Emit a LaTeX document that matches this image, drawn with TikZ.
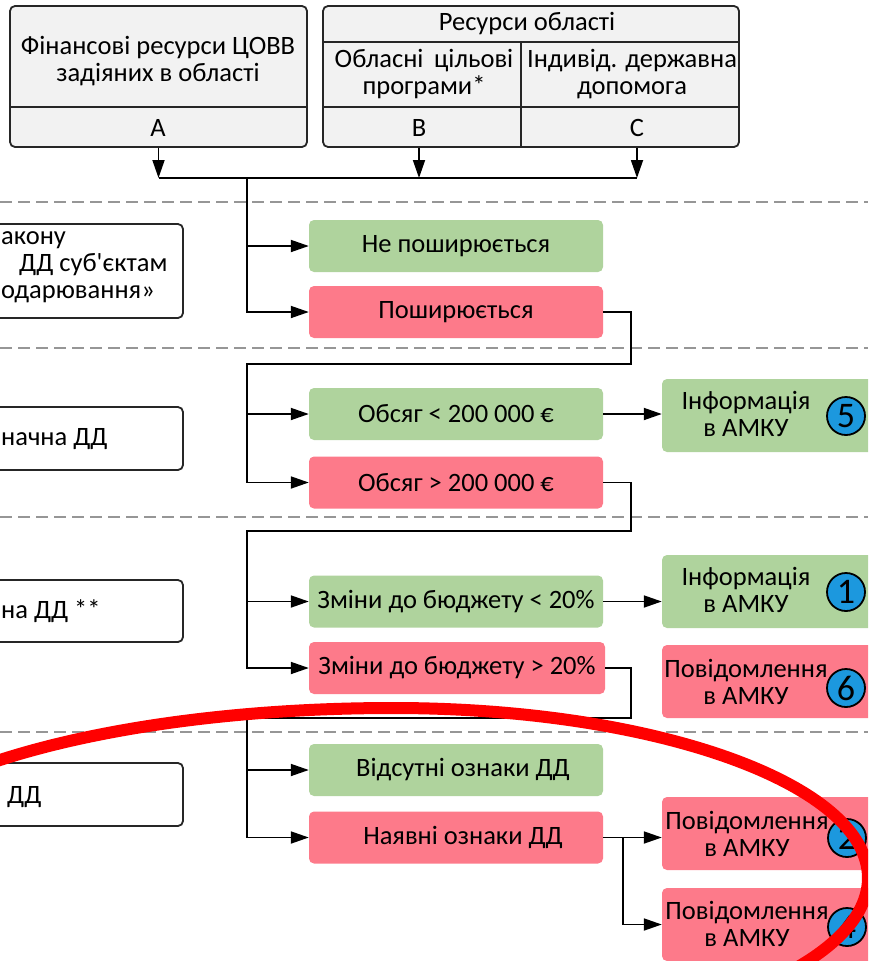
\documentclass[tikz,border=0pt]{standalone}
\usepackage{fontspec}
\setmainfont{Carlito}
\usetikzlibrary{arrows.meta}
\definecolor{zelenyi}{RGB}{175,211,157}
\definecolor{rozhevyi}{RGB}{253,122,138}
\definecolor{syniy}{RGB}{28,152,222}
\definecolor{siryi}{RGB}{242,242,242}
\definecolor{punktyr}{RGB}{150,150,150}
\begin{document}
\begin{tikzpicture}[x=1pt,y=-1pt, %Початок схеми
	font=\fontsize{26.5}{27}\selectfont,
	>={Triangle[length=18pt,width=12pt]},
	zv/.style={line width=1.8pt}, %зв'язки
	ramka/.style={draw=black!85,line width=1.8pt},
	verkh/.style={ramka,fill=siryi,rounded corners=5pt},
	krok/.style={ramka,fill=white,rounded corners=5pt,minimum width=203pt},
	tak/.style={fill=zelenyi,rounded corners=5pt,minimum width=294pt,minimum height=52pt},
	ni/.style={fill=rozhevyi,rounded corners=5pt,minimum width=294pt,minimum height=52pt},
	amku/.style={minimum width=230pt,minimum height=73pt},
	nomer/.style={circle,draw,line width=1.8pt,fill=syniy,minimum size=38pt,inner sep=0pt,font=\fontsize{36}{36}\selectfont},
	mezha/.style={punktyr,line width=1.2pt,dash pattern=on 12pt off 6pt},
	obvid/.style={red,line width=12pt}]
\useasboundingbox (0,0) rectangle (868,961);
\clip (0,0) rectangle (868,961);
	%Пунктирні межі
\foreach \yy in {202,348,517,732} \draw[mezha] (0,\yy) -- (868,\yy);
	%Верхні блоки
\node[verkh, minimum width=297pt, minimum height=141pt] (fin) at (158.5,76.5) {}; %ЦОВВ
\node[verkh, minimum width=416pt, minimum height=141pt] (res) at (531,76.5) {}; %Ресурси області
\draw[ramka] (fin.west |- 0,107) -- (fin.east |- 0,107);
\draw[ramka] (res.west |- 0,42) -- (res.east |- 0,42);
\draw[ramka] (res.west |- 0,107) -- (res.east |- 0,107);
\draw[ramka] (521,42) -- (521,147);
\node[align=center] (finT) at (158,61) {Фінансові ресурси ЦОВВ\\задіяних в області};
\node (litA) at (158,128) {A};
\node (resT) at (527,24) {Ресурси області};
\node[align=center] (prog) at (424,74) {Обласні\hspace{0.4em}цільові\\програми*};
\node[align=center] (dop) at (632,74) {Індивід. державна\\допомога};
\node (litB) at (419,128) {B};
\node (litC) at (637,128) {C};
	%Збірна лінія
\coordinate (zbir) at (247,178);
\draw[zv,->] (fin.south) -- (fin.south |- zbir);
\draw[zv,->] (litB |- res.south) -- (litB |- zbir);
\draw[zv,->] (litC |- res.south) -- (litC |- zbir);
\draw[zv] (fin.south |- zbir) -- (litC |- zbir);
	%Ліві блоки
\node[krok, minimum height=94pt] (zakon) at (81.5,271) {};
\node[anchor=west, align=left, inner sep=0pt] (zakonT) at (1,267) {акону\\\hspace*{18pt}ДД суб\textquotesingle єктам\\одарювання»};
\node[krok, minimum height=63pt] (znach) at (81.5,438.5) {};
\node[anchor=west, inner sep=0pt] (znachT) at (1,439) {начна ДД};
\node[krok, minimum height=62pt] (zmina) at (81.5,611) {};
\node[anchor=west, inner sep=0pt] (zminaT) at (1,611) {на ДД **};
\node[krok, minimum height=63pt] (oznak) at (81.5,794.5) {};
\node[anchor=west, inner sep=0pt] (oznakT) at (7,797) {ДД};
	%Середні блоки
\node[tak] (neposhyr) at (456,246) {Не поширюється};
\node[ni] (poshyr) at (456,312) {Поширюється};
\node[tak] (obsMen) at (456,414) {Обсяг < 200 000 €\hspace{50pt}};
\node[ni] (obsBil) at (456,482.5) {Обсяг > 200 000 €\hspace{50pt}};
\node[tak] (zminMen) at (456,601.5) {Зміни до бюджету < 20\%};
\node[ni, minimum width=296pt] (zminBil) at (457,668) {Зміни до бюджету > 20\%};
\node[tak] (vidsut) at (456,770) {\hspace*{14pt}Відсутні ознаки ДД};
\node[ni] (nayavni) at (456,837.5) {\hspace*{14pt}Наявні ознаки ДД};
	%Праві блоки
\node[tak, amku] (info5) at (777,415.5) {};
\node[align=center] (info5T) at (746,413.5) {Інформація\\в АМКУ};
\node[nomer] (n5) at (846,416) {5};
\node[tak, amku] (info1) at (777,591.5) {};
\node[align=center] (info1T) at (746,590) {Інформація\\в АМКУ};
\node[nomer] (n1) at (846,592) {1};
\node[ni, amku] (povid6) at (777,681.5) {};
\node[align=center] (povid6T) at (746,682) {Повідомлення\\в АМКУ};
\node[nomer] (n6) at (846,688) {6};
\node[ni, amku] (povid2) at (777,833.5) {};
\node[align=center] (povid2T) at (747,833.5) {Повідомлення\\в АМКУ};
\node[nomer] (n2) at (847,838) {2};
\node[ni, amku] (povid4) at (777,924.5) {};
\node[align=center] (povid4T) at (747,923.5) {Повідомлення\\в АМКУ};
\node[nomer] (n4) at (847,927) {4};
	%Зв'язки
\draw[zv,->] (zbir) |- (poshyr.west);
\draw[zv,->] (zbir |- neposhyr) -- (neposhyr.west);
\coordinate (vh2) at (631,364); \coordinate (zbir2) at (247,364);
\draw[zv,->] (poshyr.east) -| (vh2) -- (zbir2) |- (obsBil.west);
\draw[zv,->] (zbir2 |- obsMen) -- (obsMen.west);
\draw[zv,->] (obsMen.east) -- (obsMen.east -| info5.west);
\coordinate (vh3) at (631,531); \coordinate (zbir3) at (247,531);
\draw[zv,->] (obsBil.east) -| (vh3) -- (zbir3) |- (zminBil.west);
\draw[zv,->] (zbir3 |- zminMen) -- (zminMen.west);
\draw[zv,->] (zminMen.east) -- (zminMen.east -| info1.west);
\coordinate (vh4) at (631,718); \coordinate (zbir4) at (247,718);
\draw[zv,->] (zminBil.east) -| (vh4) -- (zbir4) |- (nayavni.west);
\draw[zv,->] (zbir4 |- vidsut) -- (vidsut.west);
\coordinate (rozg) at (623,837.5);
\draw[zv,->] (nayavni.east) -- (nayavni.east -| povid2.west);
\draw[zv,->] (rozg) |- (povid4.west);
	%Червоний овал
\draw[obvid] (393,708) arc[start angle=90, end angle=-90, x radius=475pt, y radius=170pt]
	arc[start angle=270, end angle=90, x radius=546pt, y radius=170pt] -- cycle;
\end{tikzpicture}
\end{document}
